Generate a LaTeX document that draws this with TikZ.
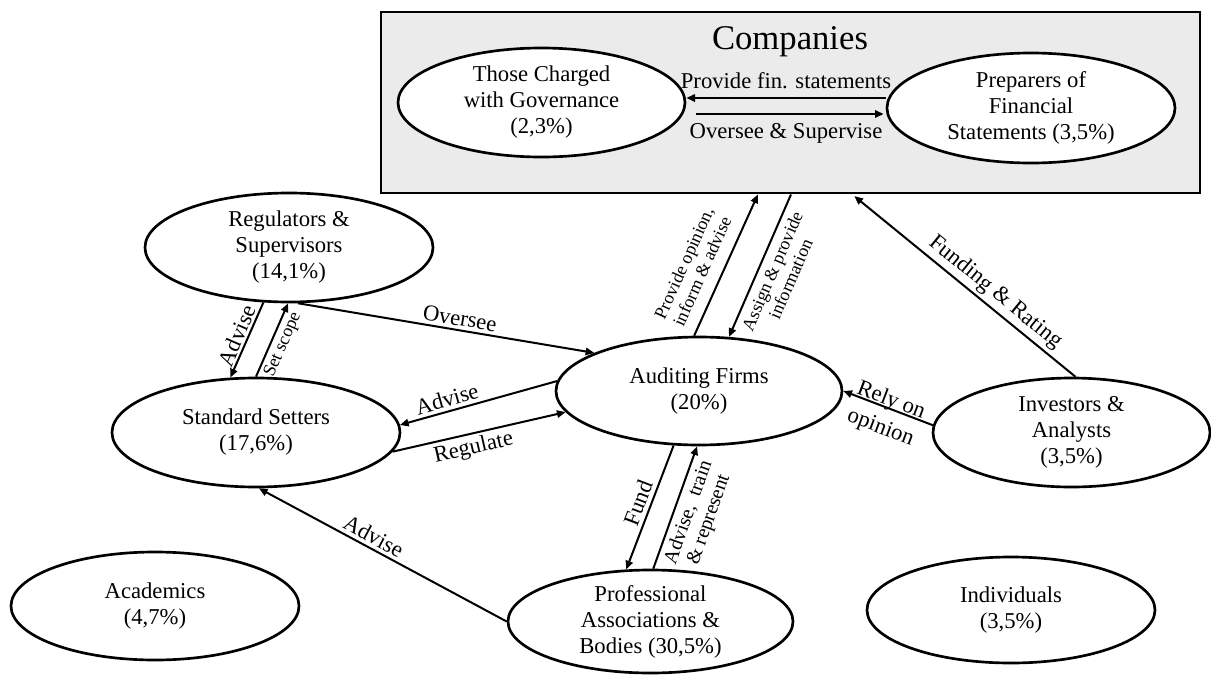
\documentclass[tikz,border=0pt]{standalone}
\usepackage{fontspec}
\setmainfont{Liberation Serif}
\usetikzlibrary{shapes.geometric,arrows.meta,calc}

\definecolor{boxgray}{RGB}{235,235,235}

\tikzset{
  ell/.style 2 args={ellipse, draw, line width=2pt, fill=white, inner sep=0pt,
    minimum width=#1, minimum height=#2},
  txt/.style={align=center, inner sep=0pt,
    font=\fontsize{17pt}{19.5pt}\selectfont},
  arr/.style={line width=1.5pt, -{Triangle[length=6.5pt,width=5.5pt]}},
  elab/.style={align=center, inner sep=2.5pt,
    font=\fontsize{17pt}{19pt}\selectfont},
  rlab/.style={align=center, inner sep=2pt,
    font=\fontsize{17pt}{22pt}\selectfont},
  mlab/.style={align=center, inner sep=2.5pt,
    font=\fontsize{15pt}{16pt}\selectfont},
  slab/.style={align=center, inner sep=2.5pt,
    font=\fontsize{13.5pt}{15pt}\selectfont},
  ttl/.style={inner sep=0pt, font=\fontsize{26pt}{30pt}\selectfont}
}

\begin{document}
\begin{tikzpicture}[x=0.75pt,y=-0.75pt]
\useasboundingbox (0,0) rectangle (1211,675);

% Companies group
\node[draw, line width=2.2pt, fill=boxgray, inner sep=0pt,
      minimum width=614.25pt, minimum height=135.75pt] (comp) at (790.5,102.5) {};
\node[ttl] (ctitle) at (790,42) {Companies};

\node[ell={215.25pt}{81.75pt}, label={[txt]center:{Those Charged\\with Governance\\(2,3\%)}}]
  (tcg) at (541.5,102.5) {};
\node[ell={216pt}{82.5pt}, label={[txt]center:{Preparers of\\Financial\\Statements (3,5\%)}}]
  (prep) at (1031,108) {};

% stakeholder groups
\node[ell={216pt}{81.75pt}, label={[txt]center:{Regulators \&\\Supervisors\\(14,1\%)}}]
  (reg) at (289,247.5) {};
\node[ell={216pt}{81.75pt}, label={[txt]center:{Standard Setters\\(17,6\%)}}]
  (ss) at (256,432.5) {};
\node[ell={216pt}{81pt}, label={[txt]center:{Academics\\(4,7\%)}}]
  (aca) at (155,606) {};
\node[ell={214.5pt}{81pt}, label={[txt]center:{Auditing Firms\\(20\%)}}]
  (aud) at (699,391) {};
\node[ell={213.75pt}{77.25pt}, label={[txt]center:{Professional\\Associations \&\\Bodies (30,5\%)}}]
  (prof) at (650.5,621.5) {};
\node[ell={207.75pt}{81.75pt}, label={[txt]center:{Investors \&\\Analysts\\(3,5\%)}}]
  (inv) at (1071.5,432.5) {};
\node[ell={216pt}{79.5pt}, label={[txt]center:{Individuals\\(3,5\%)}}]
  (ind) at (1011,610) {};

% attachment points on the Companies box
\coordinate (c1) at ($(comp.south west)!0.4603!(comp.south east)$);
\coordinate (c2) at ($(comp.south west)!0.5006!(comp.south east)$);
\coordinate (c3) at ($(comp.south west)!0.5751!(comp.south east)$);
\path ([yshift=7.5pt]prep.west) coordinate (pf1);
\path ([yshift=-4.5pt]prep.west) coordinate (pf2);

% inside Companies
\draw[arr] (pf1) -- node[elab, above, inner sep=6pt] {Provide fin. statements} (pf1 -| tcg.east);
\draw[arr, shorten <=7pt, shorten >=1.5pt] (pf2 -| tcg.east) -- node[elab, below, inner sep=6pt] {Oversee \& Supervise} (pf2);

% relations
\draw[arr] (reg.-81.8) -- node[elab, sloped, above, pos=0.54] {Oversee} (aud.160);
\draw[arr] (reg.-115.5) -- node[elab, sloped, above, inner sep=1.5pt] {Advise} (ss.115.1);
\draw[arr] (ss.90) -- node[slab, sloped, below] {Set scope} (reg.-91);
\draw[arr] (aud.176.8) -- node[elab, sloped, above, pos=0.68] {Advise} (ss.3.8);
\draw[arr] (ss.-8.6) -- node[elab, sloped, below, pos=0.45] {Regulate} (aud.-171.6);
\draw[arr] (prof.180) -- node[elab, sloped, above, pos=0.56] {Advise} (ss.-87);
\draw[arr] (aud.-115.7) -- node[elab, sloped, above] {Fund} (prof.115.5);
\draw[arr] (prof.87) -- node[mlab, sloped, below, inner sep=3.5pt] {Advise, \ train\\\& represent} (aud.-92);
\draw[arr] (aud.95.3) -- node[slab, sloped, above, pos=0.4, inner sep=9pt] {Provide opinion,\\inform \& advise} (c1);
\draw[arr] (c2) -- node[slab, sloped, below, pos=0.5, inner sep=4.5pt] {Assign \& provide\\information} (aud.61);
\draw[arr, shorten >=2pt] (inv.86) -- node[elab, sloped, above, pos=0.4] {Funding \& Rating} (c3);
\draw[arr] (inv.177.7) -- node[rlab, sloped, yshift=-5pt] {Rely on\\opinion} (aud.-0.8);
\end{tikzpicture}
\end{document}
